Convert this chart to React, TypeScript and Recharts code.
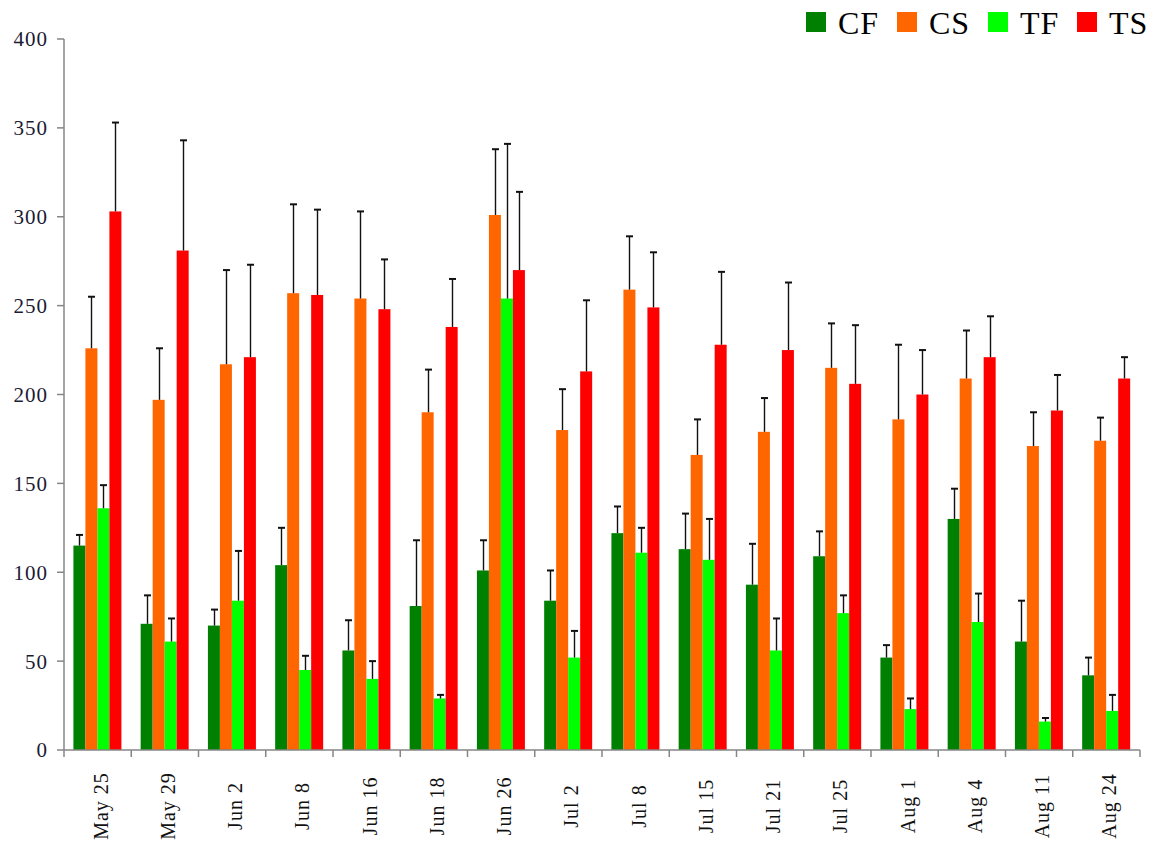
import { BarChart, Bar, XAxis, YAxis } from 'recharts';

const dates = ['May 25', 'May 29', 'Jun 2', 'Jun 8', 'Jun 16', 'Jun 18', 'Jun 26', 'Jul 2', 'Jul 8', 'Jul 15', 'Jul 21', 'Jul 25', 'Aug 1', 'Aug 4', 'Aug 11', 'Aug 24'];

const cf = [115, 71, 70, 104, 56, 81, 101, 84, 122, 113, 93, 109, 52, 130, 61, 42];
const cfErr = [6, 16, 9, 21, 17, 37, 17, 17, 15, 20, 23, 14, 7, 17, 23, 10];
const cs = [226, 197, 217, 257, 254, 190, 301, 180, 259, 166, 179, 215, 186, 209, 171, 174];
const csErr = [29, 29, 53, 50, 49, 24, 37, 23, 30, 20, 19, 25, 42, 27, 19, 13];
const tf = [136, 61, 84, 45, 40, 29, 254, 52, 111, 107, 56, 77, 23, 72, 16, 22];
const tfErr = [13, 13, 28, 8, 10, 2, 87, 15, 14, 23, 18, 10, 6, 16, 2, 9];
const ts = [303, 281, 221, 256, 248, 238, 270, 213, 249, 228, 225, 206, 200, 221, 191, 209];
const tsErr = [50, 62, 52, 48, 28, 27, 44, 40, 31, 41, 38, 33, 25, 23, 20, 12];

const yTicks = [0, 50, 100, 150, 200, 250, 300, 350, 400];

const series = [
  { key: 'CF', color: '#008000' },
  { key: 'CS', color: '#FF6600' },
  { key: 'TF', color: '#00FF00' },
  { key: 'TS', color: '#FF0000' },
];

const data = dates.map((d, i) => ({
  date: d,
  CF: cf[i], CFerr: cfErr[i],
  CS: cs[i], CSerr: csErr[i],
  TF: tf[i], TFerr: tfErr[i],
  TS: ts[i], TSerr: tsErr[i],
}));

const W = 1162;
const H = 850;
const margin = { top: 39, right: 22, bottom: 5, left: 0 };
const yAxisW = 64;
const band = (W - margin.left - margin.right - yAxisW) / dates.length;
const font = '"Liberation Serif", "Times New Roman", serif';
const legendLeft = [806, 897, 988, 1077];

const BarWithErr = (props: any) => {
  const { x, y, width, height, fill, value, payload, errKey } = props;
  const v = Array.isArray(value) ? value[1] - value[0] : value;
  const k = v ? height / v : 0;
  const err = payload[errKey] || 0;
  const cx = Math.round(x + width / 2) + 0.5;
  const top = y - err * k;
  return (
    <g>
      <rect x={x} y={y} width={width} height={height} fill={fill} />
      <line x1={cx} x2={cx} y1={y} y2={top} stroke="#111" strokeWidth={1.4} />
      <line x1={cx - 3.5} x2={cx + 3.5} y1={top} y2={top} stroke="#111" strokeWidth={2} />
    </g>
  );
};

const XTick = (props: any) => {
  const { x, y, payload, index } = props;
  const left = x - band / 2;
  const tx = x + 3;
  const ty = y + 48;
  return (
    <g>
      <line x1={left} x2={left} y1={y - 8} y2={y - 1} stroke="#868686" strokeWidth={1.5} />
      {index === dates.length - 1 && (
        <line x1={left + band} x2={left + band} y1={y - 8} y2={y - 1} stroke="#868686" strokeWidth={1.5} />
      )}
      <text
        x={tx}
        y={ty}
        dy="0.35em"
        transform={`rotate(-90, ${tx}, ${ty})`}
        textAnchor="middle"
        fontSize={20}
        letterSpacing={1}
        fontFamily={font}
        fill="#111"
      >
        {payload.value}
      </text>
    </g>
  );
};

const ChartLegend = () => (
  <div style={{ position: 'absolute', left: 0, top: 0, width: W, height: 44, fontFamily: font, fontSize: 32, color: '#000' }}>
    {series.map((s, i) => (
      <div key={s.key} style={{ position: 'absolute', left: legendLeft[i], top: 12, display: 'flex', alignItems: 'center', height: 20 }}>
        <span style={{ display: 'inline-block', width: 20, height: 20, background: s.color, marginRight: 12 }} />
        <span style={{ letterSpacing: 1, lineHeight: '20px', position: 'relative', top: 1 }}>{s.key}</span>
      </div>
    ))}
  </div>
);

export default function App() {
  return (
    <div style={{ position: 'absolute', left: 0, top: 0, width: W, height: H, background: '#fff' }}>
      <BarChart width={W} height={H} data={data} margin={margin} barCategoryGap="14%" barGap={0}>
        <XAxis
          dataKey="date"
          interval={0}
          height={95}
          axisLine={{ stroke: '#868686', strokeWidth: 1.5 }}
          tickLine={false}
          tick={<XTick />}
        />
        <YAxis
          width={yAxisW}
          domain={[0, 400]}
          ticks={yTicks}
          interval={0}
          axisLine={{ stroke: '#868686', strokeWidth: 1.5 }}
          tickLine={{ stroke: '#868686', strokeWidth: 1.5 }}
          tickSize={7}
          tickMargin={9}
          tick={{ fontSize: 21, letterSpacing: 1, fontFamily: font, fill: '#1b1b33' }}
        />
        {series.map((s) => (
          <Bar
            key={s.key}
            dataKey={s.key}
            fill={s.color}
            isAnimationActive={false}
            shape={(p: any) => <BarWithErr {...p} errKey={`${s.key}err`} />}
          />
        ))}
      </BarChart>
      <ChartLegend />
    </div>
  );
}
